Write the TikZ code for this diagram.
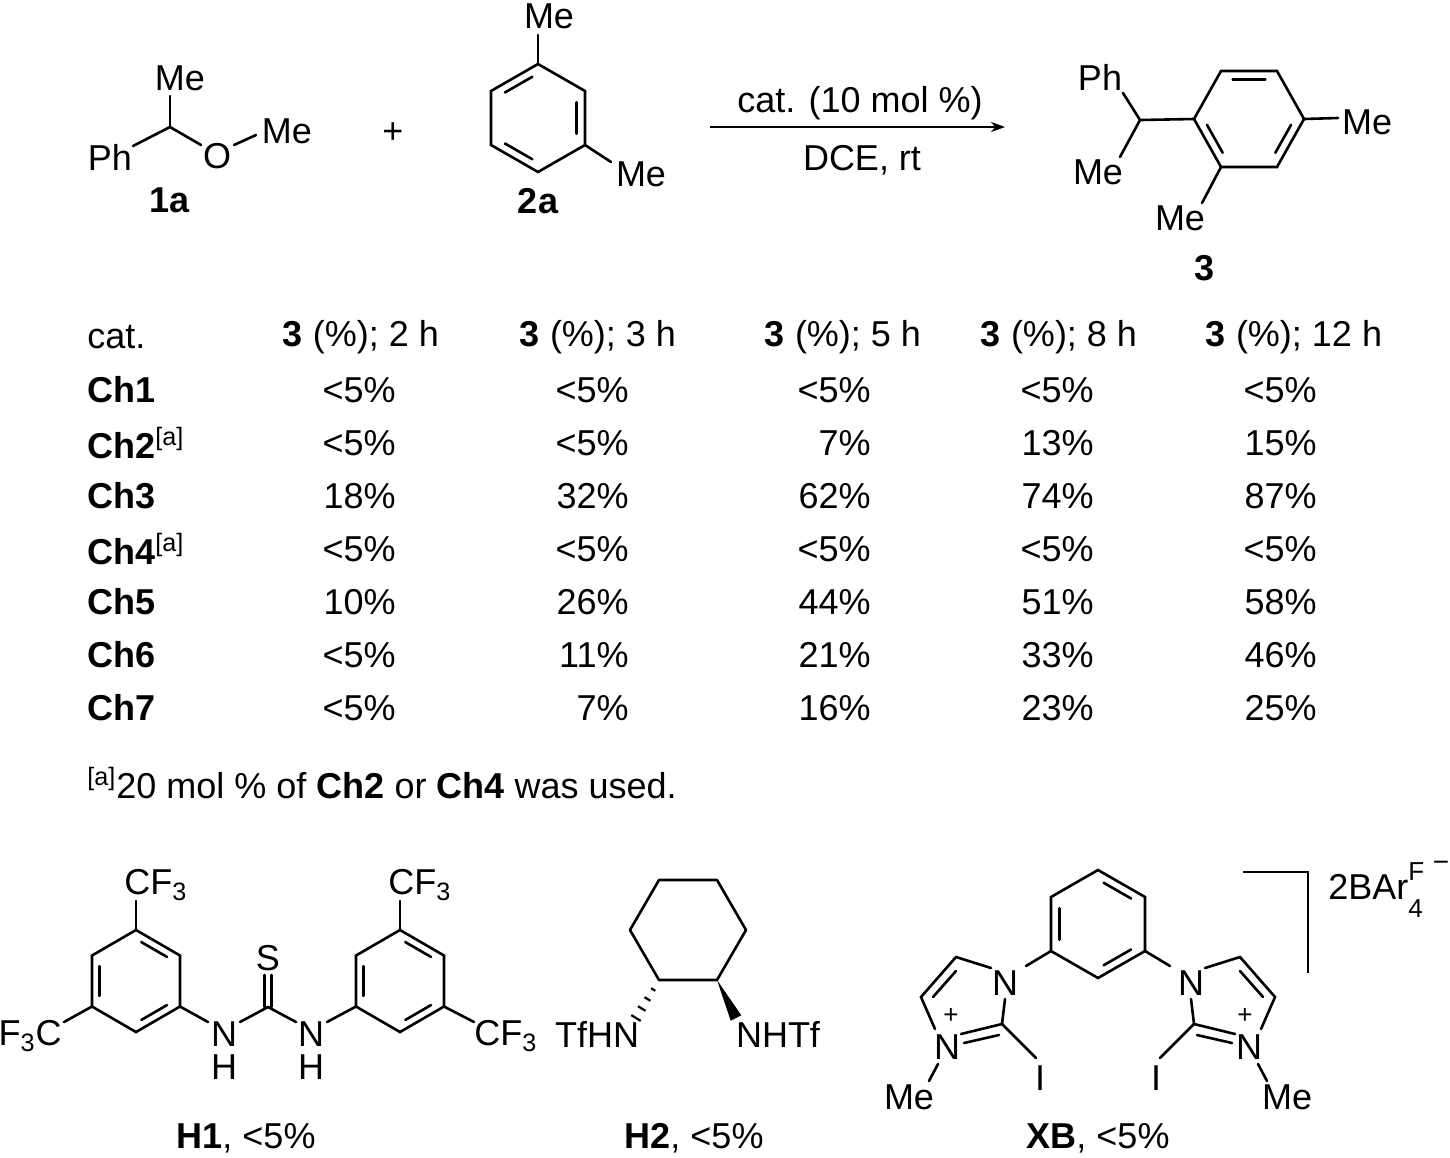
\documentclass[tikz,border=0pt]{standalone}
\usepackage{fontspec}
\setmainfont{Liberation Sans}
\usetikzlibrary{calc,arrows.meta}
\tikzset{
  every node/.style={font=\fontsize{18}{21}\selectfont, inner sep=1pt},
  bond/.style={line width=1.3pt, line cap=round},
  lbl/.style={font=\fontsize{18}{21}\selectfont\bfseries},
}
\newcommand{\dbin}[3]{\draw[bond] ($(#1)!0.2!(#3)!0.12!(#2)$) -- ($(#2)!0.2!(#3)!0.12!(#1)$);}
\begin{document}
\begin{tikzpicture}[x=0.5pt,y=-0.5pt]
\useasboundingbox (0,0) rectangle (1450,1157);
% ---------- 1a
\coordinate (c1) at (170,127);
\node (me1) at (180,78) {Me};
\node (ph1) at (110,157) {Ph};
\node (o1) at (217,156) {O};
\node (me2) at (287,131) {Me};
\draw[bond] (170,96) -- (c1);
\draw[bond] (133,146) -- (c1) -- (201,145);
\draw[bond] (234,145) -- (256,135);
\node[lbl] (l1a) at (170,200) {1a};
\node (plus) at (393,133) {+};
% ---------- 2a
\coordinate (k) at (538,118);
\coordinate (a1) at (538,64); \coordinate (a2) at (585,91); \coordinate (a3) at (585,145);
\coordinate (a4) at (538,172); \coordinate (a5) at (491,145); \coordinate (a6) at (491,91);
\draw[bond] (a1)--(a2)--(a3)--(a4)--(a5)--(a6)--cycle;
\dbin{a6}{a1}{k}\dbin{a2}{a3}{k}\dbin{a4}{a5}{k}
\draw[bond] (a1) -- (538,35);
\node (me3) at (549,16) {Me};
\draw[bond] (a3) -- (611,162);
\node (me4) at (641,174) {Me};
\node[lbl] (l2a) at (538,201) {2a};
% ---------- arrow
\coordinate (ar1) at (710,127); \coordinate (ar2) at (1005,127);
\draw[line width=1.1pt,-{Stealth[length=7pt,width=5pt]}] (ar1) -- (ar2);
\node (cond1) at (860,103) {cat. (10 mol \%)};
\node (cond2) at (862,160) {DCE, rt};
% ---------- 3
\coordinate (k3) at (1249,119);
\coordinate (b1) at (1221,71); \coordinate (b2) at (1277,71); \coordinate (b3) at (1304,119);
\coordinate (b4) at (1277,167); \coordinate (b5) at (1221,167); \coordinate (b6) at (1194,119);
\draw[bond] (b1)--(b2)--(b3)--(b4)--(b5)--(b6)--cycle;
\dbin{b1}{b2}{k3}\dbin{b3}{b4}{k3}\dbin{b5}{b6}{k3}
\coordinate (ch) at (1140,120);
\draw[bond] (1123,93) -- (ch) -- (b6);
\draw[bond] (ch) -- (1120,157);
\node (ph3) at (1100,77) {Ph};
\node (me5) at (1098,172) {Me};
\draw[bond] (b3) -- (1338,118);
\node (me6) at (1367,122) {Me};
\draw[bond] (b5) -- (1202,203);
\node (me7) at (1180,218) {Me};
\node[lbl] (l3) at (1204,268) {3};
% ---------- table
\node[anchor=west] (hcat) at (85,337) {cat.};
\node (h1) at (361,337) {\textbf{3} (\%); 2 h};
\node (h2) at (598,337) {\textbf{3} (\%); 3 h};
\node (h3) at (843,337) {\textbf{3} (\%); 5 h};
\node (h4) at (1059,337) {\textbf{3} (\%); 8 h};
\node (h5) at (1294,337) {\textbf{3} (\%); 12 h};
\foreach \i/\nm/\va/\vb/\vc/\vd/\ve in {
 1/Ch1/<5\%/<5\%/<5\%/<5\%/<5\%,
 2/Ch2\textsuperscript{\mdseries[a]}/<5\%/<5\%/7\%/13\%/15\%,
 3/Ch3/18\%/32\%/62\%/74\%/87\%,
 4/Ch4\textsuperscript{\mdseries[a]}/<5\%/<5\%/<5\%/<5\%/<5\%,
 5/Ch5/10\%/26\%/44\%/51\%/58\%,
 6/Ch6/<5\%/11\%/21\%/33\%/46\%,
 7/Ch7/<5\%/7\%/16\%/23\%/25\%}{
  \pgfmathsetmacro{\yy}{337+53*\i}
  \node[anchor=west,font=\fontsize{18}{21}\selectfont\bfseries] (r\i) at (85,\yy) {\nm};
  \node[anchor=east] (r\i c1) at (398,\yy) {\va};
  \node[anchor=east] (r\i c2) at (631,\yy) {\vb};
  \node[anchor=east] (r\i c3) at (873,\yy) {\vc};
  \node[anchor=east] (r\i c4) at (1096,\yy) {\vd};
  \node[anchor=east] (r\i c5) at (1319,\yy) {\ve};
}
\node[anchor=west] (foot) at (85,783) {\textsuperscript{[a]}20 mol \% of \textbf{Ch2} or \textbf{Ch4} was used.};
% ---------- H1
\coordinate (kL) at (136,981);
\coordinate (p1) at (136,930); \coordinate (p2) at (180,955.5); \coordinate (p3) at (180,1006.5);
\coordinate (p4) at (136,1032); \coordinate (p5) at (92,1006.5); \coordinate (p6) at (92,955.5);
\draw[bond] (p1)--(p2)--(p3)--(p4)--(p5)--(p6)--cycle;
\dbin{p1}{p2}{kL}\dbin{p3}{p4}{kL}\dbin{p5}{p6}{kL}
\coordinate (kR) at (400,981);
\coordinate (q1) at (400,930); \coordinate (q2) at (444,955.5); \coordinate (q3) at (444,1006.5);
\coordinate (q4) at (400,1032); \coordinate (q5) at (356,1006.5); \coordinate (q6) at (356,955.5);
\draw[bond] (q1)--(q2)--(q3)--(q4)--(q5)--(q6)--cycle;
\dbin{q1}{q2}{kR}\dbin{q3}{q4}{kR}\dbin{q5}{q6}{kR}
\draw[bond] (p1) -- (136,901);
\node[anchor=west] (cf1) at (122,885) {CF\textsubscript{3}};
\draw[bond] (p5) -- (64,1022);
\node[anchor=east] (cf2) at (64,1036) {F\textsubscript{3}C};
\draw[bond] (q1) -- (400,901);
\node[anchor=west] (cf3) at (386,885) {CF\textsubscript{3}};
\draw[bond] (q3) -- (474,1022);
\node[anchor=west] (cf4) at (472,1036) {CF\textsubscript{3}};
\coordinate (ct) at (268,1007);
\node (n1) at (224,1034) {N};
\node (hh1) at (224,1067) {H};
\node (n2) at (311,1034) {N};
\node (hh2) at (311,1067) {H};
\draw[bond] (p3) -- (208,1022);
\draw[bond] (240,1022) -- (ct) -- (296,1022);
\draw[bond] (327,1022) -- (q5);
\draw[bond] (264.5,1007) -- (264.5,975);
\draw[bond] (271.5,1007) -- (271.5,975);
\node (s1) at (268,958) {S};
\node[anchor=base] (lh1) at (246,1148) {\textbf{H1}, <5\%};
% ---------- H2
\coordinate (kc) at (688,930);
\coordinate (s1a) at (659,880); \coordinate (s2) at (717,880); \coordinate (s3) at (746,930);
\coordinate (s4) at (717,980); \coordinate (s5) at (659,980); \coordinate (s6) at (630,930);
\draw[bond,line join=round] (s1a)--(s2)--(s3)--(s4)--(s5)--(s6)--cycle;
\draw[line width=1.1pt] (651.1,988.2)--(655.3,990.8) (644.5,997.2)--(650.5,1000.8)
  (638,1006.2)--(645.6,1010.8) (631.3,1015.1)--(640.7,1020.9);
\fill (717,980) -- (741.3,1015.3) -- (730.7,1020.7) -- cycle;
\node (tfhn) at (597,1034) {TfHN};
\node (nhtf) at (778,1034) {NHTf};
\node[anchor=base] (lh2) at (694,1148) {\textbf{H2}, <5\%};
% ---------- XB
\coordinate (kx) at (1098,924);
\coordinate (x1) at (1098,870); \coordinate (x2) at (1145,897); \coordinate (x3) at (1145,951);
\coordinate (x4) at (1098,978); \coordinate (x5) at (1051,951); \coordinate (x6) at (1051,897);
\draw[bond] (x1)--(x2)--(x3)--(x4)--(x5)--(x6)--cycle;
\dbin{x1}{x2}{kx}\dbin{x3}{x4}{kx}\dbin{x5}{x6}{kx}
% left imidazolium
\node (nl1) at (1005,983) {N};
\node (nl3) at (947,1047) {N};
\node[font=\fontsize{13}{15}\selectfont] (pl) at (951,1016) {+};
\draw[bond] (x5) -- (1026,966);
\draw[bond] (991,968) -- (956,957) -- (921,997) -- (935,1029);
\draw[bond] (956,971) -- (933,997);
\draw[bond] (961,1034) -- (1002,1024) -- (1005,999);
\draw[bond] (964,1043) -- (999,1035);
\draw[bond] (1002,1024) -- (1036,1058);
\node (il) at (1040,1078) {I};
\draw[bond] (938,1064) -- (929,1081);
\node (mel) at (909,1097) {Me};
% right imidazolium
\node (nr1) at (1191,983) {N};
\node (nr3) at (1249,1047) {N};
\node[font=\fontsize{13}{15}\selectfont] (pr) at (1245,1016) {+};
\draw[bond] (x3) -- (1170,966);
\draw[bond] (1205,968) -- (1240,957) -- (1275,997) -- (1261,1029);
\draw[bond] (1240,971) -- (1263,997);
\draw[bond] (1235,1034) -- (1194,1024) -- (1191,999);
\draw[bond] (1232,1043) -- (1197,1035);
\draw[bond] (1194,1024) -- (1160,1058);
\node (ir) at (1156,1078) {I};
\draw[bond] (1258,1064) -- (1267,1081);
\node (mer) at (1287,1097) {Me};
% bracket and counterion
\draw[bond,line cap=butt] (1243,872) -- (1308,872) -- (1308,973);
\node[anchor=west] (barf) at (1326,890) {2BAr\rlap{\raisebox{1.0ex}{\fontsize{13}{15}\selectfont F}}\raisebox{-0.9ex}{\fontsize{13}{15}\selectfont 4}};
\node (minus) at (1441,866) {\fontsize{14}{15}\selectfont −};
\node[anchor=base] (lxb) at (1098,1148) {\textbf{XB}, <5\%};
\end{tikzpicture}
\end{document}
